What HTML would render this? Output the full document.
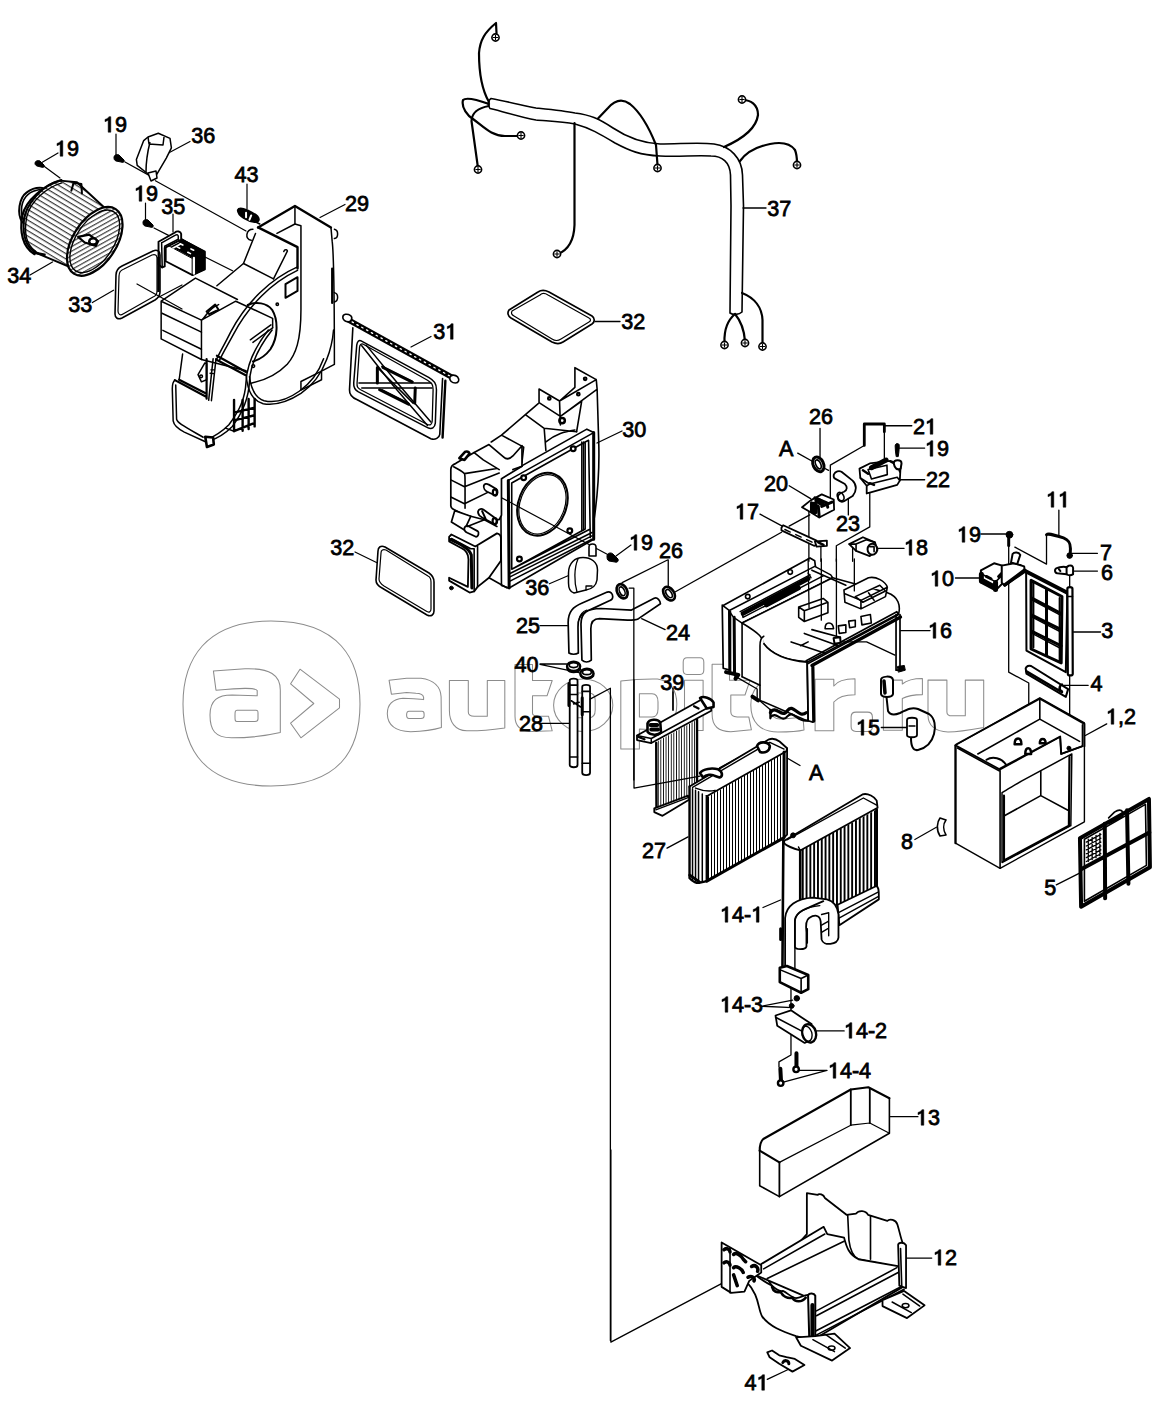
<!DOCTYPE html>
<html><head><meta charset="utf-8"><title>diagram</title>
<style>
html,body{margin:0;padding:0;background:#fff;}
svg{display:block;}
.lb text{font-family:"Liberation Sans",sans-serif;font-size:22.5px;fill:#000;stroke:#000;stroke-width:0.8px;}
</style></head><body>
<svg width="1166" height="1406" viewBox="0 0 1166 1406">
<rect width="1166" height="1406" fill="#fff"/>
<g fill="none" stroke="#8c8c8c" stroke-width="1.05" stroke-linejoin="round">
<!-- logo squircle -->
<path d="M271,621 C340,621 360,660 360,704 C360,750 340,786 271,786 C205,786 183,750 183,704 C183,660 205,621 271,621 Z"/>
<path d="M213.4,670.9 L245,668.8 C270,668 280.3,675 280.3,690 L280.3,732.6 C270,735 250,737.8 231.5,737.8 C215,737.8 210,730 210,715 C210,700 218,695 232,695 L257.2,695.8 L257.2,690.6 C255,687 240,688 216,690.3 Z"/>
<path d="M237,710.3 L256,710.3 C258,710.3 258,711 258,713 L258,719 C258,721 257,721.5 255,721.5 L237,721.5 C235,721.5 235,720 235,716 C235,712 235,710.3 237,710.3 Z"/>
<path d="M300,669.2 L339.5,699.2 L339.5,707.8 L300.9,737.8 L290.6,723.2 L313.8,703.5 L290.6,683.8 Z"/>
<!-- a -->
<path d="M389.1,680.3 L406.6,678.2 L421,678.2 C433.9,679.8 440.6,687 441.1,696.8 L441.4,727.6 C431.3,730.7 421,731.5 410.7,731.8 C395.3,731.2 387.6,725.6 387.3,713.7 C387.3,703.5 392.7,699.3 403,698.3 L413.8,698.8 L423.6,699.6 L423.6,697.3 C423.1,694.2 421,693.2 415.9,693.2 L406.6,692.6 L391.4,694.2 Z"/>
<path d="M409,711.2 L422,711.2 C424,711.2 424.1,712 424.1,714 L424.1,716 C424.1,718 423,718.4 421,718.4 L409,718.4 C407,718.4 406.6,717 406.6,715 C406.6,712.5 407,711.2 409,711.2 Z"/>
<!-- u -->
<path d="M449.4,680.5 L468.3,680.5 L468.3,711.9 C468.3,715 470,716.2 474.2,716.2 L487.3,716.2 L487.3,680.5 L504.8,680.5 L504.8,727.9 C490,730 478,731 466.9,730.8 C455,730.5 449.4,722 449.4,710.4 Z"/>
<!-- t -->
<path d="M515,664.5 L532.5,664.5 L532.5,680.5 L552.2,680.5 L547,695.8 L532.5,695.8 L532.5,713.3 C532.5,715.5 535,716.2 538.3,716.2 L548.5,716.2 L552.2,730.8 L532.5,731.5 C520,731.5 515,725 515,716.2 Z"/>
<!-- o -->
<ellipse cx="583.2" cy="705.3" rx="29.6" ry="26.3"/>
<path d="M578,692.9 L589,692.9 C593,692.9 595.2,696 595.2,700 L595.2,710 C595.2,715 593,717.7 589,717.7 L578,717.7 C574,717.7 571.8,715 571.8,710 L571.8,700 C571.8,696 574,692.9 578,692.9 Z"/>
<!-- p -->
<path d="M620.8,680.9 C632,679.5 645,678.8 657.5,679 C670,680.5 676.8,690 676.8,704 C676.8,720 670,729.8 653.6,729.8 L639.4,729.1 L639.4,749 L620.8,749 Z"/>
<path d="M639.4,693.7 L652,693.7 C656,693.7 658,697 658,702 L658,709 C658,714 656,716.9 652,716.9 L639.4,716.9 Z"/>
<!-- i -->
<path d="M687,657.7 L700,657.7 C702.5,657.7 703.8,659 703.8,662 L703.8,670 C703.8,673 702.5,674.4 700,674.4 L687,674.4 C684.5,674.4 683.2,673 683.2,670 L683.2,662 C683.2,659 684.5,657.7 687,657.7 Z"/>
<path d="M684.5,680.2 L703.1,680.2 L703.1,730.4 L684.5,730.4 Z"/>
<!-- t -->
<path d="M712.1,664.2 L729.5,664.2 L729.5,680.2 L750.1,680.2 L745,695 L730.8,695 L730.8,711.8 C730.8,715 733,716.9 737.2,716.9 L748.8,716.9 L751.4,729.8 L730.8,731.7 C718,731.7 712.1,725 712.1,714.3 Z"/>
<!-- e -->
<path d="M805.5,710.8 L805.5,702 C805.5,687 795,678 778,678 C760,678 750.8,690 750.8,705 C750.8,722 760,732 778,732 C790,732 800,731 804,730 L803,717 C795,718 788,719 780,719 C775,719 771,716 771,710.8 Z"/>
<path d="M771.4,698.6 C771.4,693 775,691.5 780,691.5 C786,691.5 788.7,694 788.7,698.6 Z"/>
<!-- r -->
<path d="M815.1,679.3 L833.8,679.3 L833.8,686 C838,680 845,678.7 855,678.7 L855,694.7 C845,694.7 838,697 833.8,702 L833.8,730.8 L815.1,730.8 Z"/>
<!-- . -->
<path d="M856,712.1 L867.5,712.1 C871,712.1 872.4,714 872.4,717 L872.4,726.5 C872.4,730 871,731.4 867.5,731.4 L856,731.4 C852.5,731.4 851.1,730 851.1,726.5 L851.1,717 C851.1,714 852.5,712.1 856,712.1 Z"/>
<!-- r -->
<path d="M883.4,680.1 L902.3,680.1 L902.3,684 C907,680 913,678.4 922.4,678.4 L922.4,694.6 C913,694.6 907,696 902.3,698.5 L902.3,730.3 L883.4,730.3 Z"/>
<!-- u -->
<path d="M928,680.1 L946.9,680.1 L946.9,711.9 C946.9,714.5 948.5,715.8 952,715.8 L965.3,715.8 L965.3,680.1 L983.7,680.1 L983.7,727.5 C970,730 960,731.9 948,731.9 C935,731.9 928,725 928,715.2 Z"/>
</g>

<g fill="none" stroke="#000" stroke-width="1.6" stroke-linecap="round" stroke-linejoin="round">
<!-- tube 37 -->
<path d="M491,98.5 C510,102 525,106 536,108 C555,110 565,111 575,113 C590,115 598,118 613,128 C625,136 640,143 660,144 C680,144 700,142 714,144 C730,146 742,158 742.5,175 L743.5,206 L742,312 C739,315 733,315 730,313 L731,206 L730.5,175 C730,162 722,156 711,156 C695,155 680,157 660,156 C640,155 630,151 615,143 C600,134 590,128 575,124 C560,121 545,121 536,120 C520,117 505,112 490,108.5 C487,105 488,100 491,98.5 Z"/>
</g>
<g fill="none" stroke="#000" stroke-width="2.2" stroke-linecap="round" stroke-linejoin="round">
<!-- wires -->
<path d="M489,102 C482,90 479,70 479,53 C480,40 485,32 496,23 L496.5,33"/>
<path d="M489,104 C478,100 466,97 463,100 C461,108 468,116 473,119 C485,128 492,136 505,136 L518,136"/>
<path d="M489,106 C478,108 472,112 471.5,121 L478,168"/>
<path d="M574.5,123 L574.5,225 C574,240 568,250 558,254"/>
<path d="M598,118.5 L608,108 C615,100 622,98 630,104 C640,112 648,125 656,145 L657.5,165"/>
<path d="M724,147 C740,140 756,130 758,115 C758,104 750,100 743,100"/>
<path d="M740,161 C748,150 760,146 770,144 C780,142 790,143 795,150 C797,155 797,160 797,163"/>
<path d="M735,314 C728,320 724,328 724.5,342"/>
<path d="M735,314 C740,320 744,328 745,341"/>
<path d="M742,293 C755,298 762,308 762.5,320 L762.5,344"/>
</g>
<g fill="#fff" stroke="#000" stroke-width="1.6">
<circle cx="495.5" cy="37.5" r="3.6"/><circle cx="521" cy="135.5" r="3.6"/><circle cx="478" cy="169.5" r="3.6"/>
<circle cx="557" cy="254" r="3.6"/><circle cx="657.5" cy="168" r="3.6"/><circle cx="742" cy="99.5" r="3.6"/>
<circle cx="797" cy="165" r="3.6"/><circle cx="724.5" cy="345" r="3.6"/><circle cx="745" cy="343" r="3.6"/><circle cx="762.5" cy="346.5" r="3.6"/>
</g>
<g fill="none" stroke="#000" stroke-width="1.1"><path d="M492.9,37.5 L498.1,37.5 M495.5,34.9 L495.5,40.1"/><path d="M518.4,135.5 L523.6,135.5 M521,132.9 L521,138.1"/><path d="M475.4,169.5 L480.6,169.5 M478,166.9 L478,172.1"/><path d="M554.4,254 L559.6,254 M557,251.4 L557,256.6"/><path d="M654.9,168 L660.1,168 M657.5,165.4 L657.5,170.6"/><path d="M739.4,99.5 L744.6,99.5 M742,96.9 L742,102.1"/><path d="M794.4,165 L799.6,165 M797,162.4 L797,167.6"/><path d="M721.9,345 L727.1,345 M724.5,342.4 L724.5,347.6"/><path d="M742.4,343 L747.6,343 M745,340.4 L745,345.6"/><path d="M759.9,346.5 L765.1,346.5 M762.5,343.9 L762.5,349.1"/></g>

<!-- blower housing 29 + duct, traced in zoom coords (origin 150,200 scale 1/5.83) -->
<g transform="translate(150,200) scale(0.17153)" fill="none" stroke="#000" stroke-width="1.5" stroke-linejoin="round" stroke-linecap="round">
<g vector-effect="non-scaling-stroke">
<!-- top rim -->
<path vector-effect="non-scaling-stroke" stroke-width="2.4" d="M630,160 L845,35 L1055,160"/>
<path vector-effect="non-scaling-stroke" stroke-width="2.4" d="M630,160 L860,275 L860,400"/>

<path vector-effect="non-scaling-stroke" d="M740,195 L845,140"/>

<path vector-effect="non-scaling-stroke" stroke-width="2.2" d="M1062,400 L1062,600"/>
<path vector-effect="non-scaling-stroke" d="M1075,170 C1100,175 1100,220 1075,225"/>
<path vector-effect="non-scaling-stroke" d="M1075,540 C1100,545 1100,590 1075,595"/>

<!-- scroll circle -->


<!-- double flange arc -->


<!-- fold/back lines -->
<path vector-effect="non-scaling-stroke" d="M720,460 L800,300 C805,290 785,285 780,300"/>
<path vector-effect="non-scaling-stroke" d="M545,370 L720,460"/>
<path vector-effect="non-scaling-stroke" d="M615,195 L545,370 L390,500"/>
<path vector-effect="non-scaling-stroke" d="M600,170 C560,170 550,230 590,235"/>
<!-- small rectangle window -->
<path vector-effect="non-scaling-stroke" stroke-width="2" d="M790,490 L860,450 L860,530 L790,570 Z"/>
<!-- duct box -->
<path vector-effect="non-scaling-stroke" d="M65,590 L265,455 L510,580 M65,590 L300,700 L300,930 L65,810 Z"/>
<path vector-effect="non-scaling-stroke" d="M70,660 L300,770 M75,760 L300,870"/>
<path vector-effect="non-scaling-stroke" d="M300,700 L500,590 L715,690 L715,745 M300,930 L560,995 M300,700 C330,680 330,640 400,610"/>
<path vector-effect="non-scaling-stroke" stroke-width="2" d="M330,650 L380,610 L400,640 L345,665 Z"/>
<!-- front face / right side -->
<path vector-effect="non-scaling-stroke" d="M845,35 L845,140 L880,150 L880,640 C880,820 850,900 800,958 C740,1020 680,1050 590,1068"/>
<path vector-effect="non-scaling-stroke" d="M1055,160 L1062,240 C1072,320 1075,650 1075,958 L1000,998 L1000,1048 L880,1108 M1000,998 L880,1058 L880,1108"/>
<!-- eye arc -->
<path vector-effect="non-scaling-stroke" stroke-width="2" d="M570,612 C620,590 680,600 712,640 C748,700 748,800 702,870 C672,910 640,930 600,942"/>
<path vector-effect="non-scaling-stroke" d="M600,830 L715,745 M585,815 L705,728"/>
<circle vector-effect="non-scaling-stroke" cx="742" cy="608" r="7"/><circle vector-effect="non-scaling-stroke" cx="602" cy="968" r="8"/>

<!-- flange arc (upper) -->
<path vector-effect="non-scaling-stroke" d="M860,390 C700,460 560,600 470,770 C430,850 400,900 388,930"/>
<path vector-effect="non-scaling-stroke" d="M860,410 C710,480 575,615 488,780 C450,850 420,900 405,935"/>
<!-- scroll rings -->
<path vector-effect="non-scaling-stroke" d="M690,758 C610,860 565,960 560,1058 C555,1160 520,1230 460,1310 C420,1350 370,1380 330,1398"/>
<path vector-effect="non-scaling-stroke" d="M712,758 C632,860 585,960 580,1058 C575,1160 540,1240 480,1320 C440,1360 390,1390 345,1405"/>
<path vector-effect="non-scaling-stroke" d="M560,1020 C570,1120 600,1170 660,1188 C730,1200 800,1180 880,1128 C950,1080 1000,1010 1030,930 C1050,880 1065,820 1070,758"/>
<path vector-effect="non-scaling-stroke" d="M580,1030 C590,1110 620,1155 665,1170 C730,1185 800,1165 870,1115 C940,1065 985,1000 1012,925"/>
<!-- lower duct -->
<path vector-effect="non-scaling-stroke" d="M190,898 L170,1048 M145,1050 C132,1060 130,1080 130,1100 L135,1288 C140,1318 170,1338 200,1353 L320,1408"/>
<path vector-effect="non-scaling-stroke" d="M150,1078 L155,1278 C160,1300 200,1320 310,1383"/>
<path vector-effect="non-scaling-stroke" stroke-width="2.2" d="M145,1050 L330,1148 M170,1048 L330,1130 M330,928 L330,1158"/>
<path vector-effect="non-scaling-stroke" d="M280,1018 L320,950 L330,955 L330,1048 L300,1060 Z"/>
<circle vector-effect="non-scaling-stroke" cx="298" cy="1028" r="8"/>
<path vector-effect="non-scaling-stroke" d="M385,925 L358,1170 M368,925 L342,1168"/>
<path vector-effect="non-scaling-stroke" stroke-width="2.2" d="M390,908 L560,1003 M385,930 L555,1020"/>
<path vector-effect="non-scaling-stroke" stroke-width="1.3" d="M355,990 L375,990 M350,1010 L372,1012"/>
<!-- grille -->
<path vector-effect="non-scaling-stroke" stroke-width="2.4" d="M490,1165 L490,1348 M540,1165 L540,1345 M575,1160 L575,1335 M610,1160 L610,1320 M490,1240 L610,1210 M490,1285 L610,1255 M490,1348 L610,1300"/>
<path vector-effect="non-scaling-stroke" stroke-width="1.4" d="M440,1330 L490,1348"/>
<path vector-effect="non-scaling-stroke" stroke-width="2.6" fill="#fff" d="M322,1380 L368,1385 L372,1425 L332,1440 Z"/>
<!-- 43 blob -->
<path vector-effect="non-scaling-stroke" stroke-width="3" fill="#000" d="M515,60 C520,45 560,55 600,80 C640,100 640,130 610,125 C570,120 515,90 515,60 Z"/>
<path vector-effect="non-scaling-stroke" stroke="#fff" stroke-width="2" d="M560,75 L560,100 M590,90 L580,115"/>
<path vector-effect="non-scaling-stroke" d="M600,120 L640,140"/>
</g>
</g>
<!-- part 35 resistor: origin (140,180) scale 1/4.858 -->
<g transform="translate(140,180) scale(0.20585)" fill="none" stroke="#000" stroke-linejoin="round" stroke-linecap="round">
<path vector-effect="non-scaling-stroke" stroke-width="1.8" fill="#fff" d="M125,320 L190,282 L315,348 L315,435 L255,462 L125,395 Z"/>
<path vector-effect="non-scaling-stroke" stroke-width="1" fill="#000" d="M140,318 L200,284 L315,348 L255,380 Z"/>
<path vector-effect="non-scaling-stroke" stroke-width="1" fill="#000" d="M255,380 L315,348 L315,435 L255,462 Z"/>
<path vector-effect="non-scaling-stroke" stroke-width="2.2" stroke="#fff" d="M262,378 L262,455"/>
<path vector-effect="non-scaling-stroke" stroke-width="1.6" stroke="#fff" stroke-dasharray="3 9" d="M195,310 L290,355 M180,325 L270,370"/>
<path vector-effect="non-scaling-stroke" stroke-width="1.6" stroke="#fff" d="M150,318 L185,300 M160,330 L195,312"/>
<path vector-effect="non-scaling-stroke" stroke-width="1.9" fill="#fff" d="M90,300 L170,255 C180,245 198,250 200,262 L200,290 L120,330 L120,420 L108,425 L90,410 Z"/>
<path vector-effect="non-scaling-stroke" stroke-width="1.5" d="M105,305 L172,268 C180,263 186,266 186,275 L186,288 L120,322 M105,305 L108,425"/>
</g>

<defs>
<pattern id="hatchA" patternUnits="userSpaceOnUse" width="41" height="41" patternTransform="rotate(31)">
<rect width="41" height="41" fill="#fff"/><line x1="0" y1="6" x2="41" y2="6" stroke="#000" stroke-width="8.5"/></pattern>
<pattern id="hatchB" patternUnits="userSpaceOnUse" width="36" height="36" patternTransform="rotate(28)">
<rect width="36" height="36" fill="#fff"/><line x1="0" y1="6" x2="36" y2="6" stroke="#000" stroke-width="8"/></pattern>
</defs>
<!-- motor 34: zoom origin (0,160) scale 1/8.97 -->
<g transform="translate(0,160) scale(0.11148)" fill="none" stroke="#000" stroke-linejoin="round" stroke-linecap="round">
<!-- dome motor behind -->
<path vector-effect="non-scaling-stroke" stroke-width="2" fill="#fff" d="M200,560 C150,480 170,340 240,290 C280,260 340,245 380,250 L420,520 Z"/>
<path vector-effect="non-scaling-stroke" stroke-width="1.6" d="M215,540 C175,470 190,360 250,310 C280,285 320,270 360,265"/>
<!-- drum body hatched -->
<path vector-effect="non-scaling-stroke" stroke-width="2" fill="url(#hatchA)" d="M540,185 L690,200 L950,440 C700,600 640,800 660,975 L340,840 C250,800 200,700 215,540 C230,400 380,220 540,185 Z"/>
<!-- back rim -->
<path vector-effect="non-scaling-stroke" stroke-width="2.2" d="M550,180 C400,220 230,360 200,500 C175,640 200,780 310,845"/>
<path vector-effect="non-scaling-stroke" stroke-width="1.4" d="M555,205 C420,245 270,370 240,510 C215,640 235,760 320,820"/>
<!-- bracket -->
<path vector-effect="non-scaling-stroke" stroke-width="2" d="M640,275 L660,205 L730,215 L735,300"/>
<!-- front ellipse hatched -->
<ellipse vector-effect="non-scaling-stroke" stroke-width="2.2" fill="url(#hatchB)" cx="850" cy="730" rx="345" ry="195" transform="rotate(-57 850 730)"/>
<ellipse vector-effect="non-scaling-stroke" stroke-width="1.4" cx="850" cy="730" rx="315" ry="170" transform="rotate(-57 850 730)"/>
<!-- hub -->
<path vector-effect="non-scaling-stroke" stroke-width="2.2" fill="#fff" d="M700,690 L800,670 L880,730 L860,770 L760,740 Z"/>
<ellipse vector-effect="non-scaling-stroke" stroke-width="2.4" fill="#fff" cx="835" cy="730" rx="35" ry="28"/>
<!-- motor foot -->
<path vector-effect="non-scaling-stroke" stroke-width="2.4" d="M300,830 L400,850"/>
</g>

<g fill="none" stroke="#000" stroke-width="1.2" stroke-linecap="round" stroke-linejoin="round">
<!-- leaders -->
<path d="M58,153 L41,163"/>
<path d="M41,164 L60,178"/>
<path d="M116,134 L116,156"/>
<path d="M125,162 L149.6,175.6 M155.4,180.7 L246,231"/>
<path d="M190,141.5 L168.5,153"/>
<path d="M247,184 L247,209"/>
<path d="M345,204.5 L320,217.5"/>
<path d="M145.5,203 L145.5,221"/>
<path d="M154,228 L168.5,235.4"/>
<path d="M173,214 L173,232"/>
<path d="M30,275 L52.5,262"/>
<path d="M92.4,302.6 L113.5,290.2"/>
<path d="M137,284 L182,309 M159,297 L182,285"/>
<path d="M431,336.5 L411,347"/>
</g>
<!-- screws -->
<g fill="#000" stroke="#000" stroke-width="1">
<path d="M35,163 C35,161 38,160 40,161 L44,165 C45,167 43,168 41,167 L37,166 C35,165 35,164 35,163 Z"/>
<path d="M114,157 C114,155 117,154 119,155 L124,160 C125,162 123,163 121,162 L116,161 C114,160 114,159 114,157 Z"/>
<path d="M143,222 C143,220 146,219 148,220 L153,225 C154,227 152,228 150,227 L145,226 C143,225 143,224 143,222 Z"/>
</g>
<!-- part 36 -->
<g fill="#fff" stroke="#000" stroke-width="1.5" stroke-linejoin="round">
<path d="M143.7,140.6 L148,137 L158.3,133.3 L170,138.4 L171.4,147.9 L166.3,158.1 L156.9,174.1 L151,177 L148,174 L137.2,165.4 L136.4,159.6 Z"/>
<path fill="none" d="M150,142 C148,150 146,160 146,172 M148,137 L149,144 L163,145 L164,137"/>
<path d="M148,173 L156,171 L157,178 L151,181 Z"/>
</g>
<!-- 33 gasket -->
<g fill="none" stroke="#000" stroke-linejoin="round">
<path stroke-width="1.6" d="M116,275 C116,270 118,268 122,266 L153,251 C157,249 160,251 160,255 L160,292 C160,296 158,298 155,300 L122,318 C118,320 115,318 115,314 Z"/>
<path stroke-width="1.2" d="M119,276 C119,272 121,270 124,269 L152,255 C155,254 157,255 157,258 L157,291 C157,294 156,296 153,297 L123,314 C120,316 118,314 118,311 Z"/>
<path stroke-width="2.6" d="M158.5,257 L158.5,292"/>
</g>

<g transform="translate(335,305) scale(0.11148)" fill="none" stroke="#000" stroke-linejoin="round" stroke-linecap="round">
<!-- shaft -->
<path vector-effect="non-scaling-stroke" stroke-width="5.5" d="M95,120 L1080,665"/>
<path vector-effect="non-scaling-stroke" stroke-width="1.3" stroke="#fff" stroke-dasharray="1.5 4" d="M110,128 L1060,654"/>
<path vector-effect="non-scaling-stroke" stroke-width="1.6" fill="#fff" d="M70,110 C70,80 110,75 140,95 C160,110 150,150 120,150 C95,150 70,135 70,110 Z"/>
<path vector-effect="non-scaling-stroke" stroke-width="1.6" fill="#fff" d="M1030,650 C1040,620 1080,625 1100,645 C1120,670 1110,700 1080,700 C1050,700 1025,680 1030,650 Z"/>
<!-- panel outer -->
<path vector-effect="non-scaling-stroke" stroke-width="1.6" d="M160,205 L130,760 C128,800 150,830 200,850 L860,1200 C900,1215 935,1190 940,1160 L965,660"/>
<path vector-effect="non-scaling-stroke" stroke-width="2.4" d="M990,680 L965,1190"/>
<!-- inner frame double -->
<path vector-effect="non-scaling-stroke" stroke-width="1.5" d="M230,320 L840,650 C890,680 910,700 910,760 L900,1060 C895,1100 870,1120 830,1100 L210,780 C175,760 165,740 168,700 L195,360 C200,325 215,315 230,320 Z"/>
<path vector-effect="non-scaling-stroke" stroke-width="1.3" d="M250,350 L830,675 C870,700 880,715 880,760 L872,1040 C870,1070 855,1085 825,1070 L230,760 C205,745 195,735 198,700 L220,380 C223,355 235,345 250,350 Z"/>
<!-- cross bars -->
<path vector-effect="non-scaling-stroke" stroke-width="1.5" d="M215,700 L860,700 M240,745 L870,745"/>
<path vector-effect="non-scaling-stroke" stroke-width="1.5" d="M240,365 L520,720 L830,1080 M280,360 L560,700 L860,1050"/>
<path vector-effect="non-scaling-stroke" stroke-width="1.5" d="M380,560 L700,880 M420,550 L700,690 M420,760 L660,880"/>
<path vector-effect="non-scaling-stroke" stroke-width="3" d="M380,560 L380,700 M720,745 L715,880 M430,560 L690,690 M400,760 L660,890"/>
</g>

<g transform="translate(440,360) scale(0.17077)" fill="none" stroke="#000" stroke-linejoin="round" stroke-linecap="round">
<!-- tower bracket -->
<path vector-effect="non-scaling-stroke" stroke-width="1.6" d="M790,45 L915,115 L920,170 L930,500 C935,700 915,850 900,950 M790,45 L790,160 L700,240 M580,170 L700,240 L915,115 M580,170 L580,250 L705,330 L915,175 M700,240 L705,380 M705,330 L830,240 L800,420"/>
<circle vector-effect="non-scaling-stroke" stroke-width="2" cx="640" cy="225" r="8"/><circle vector-effect="non-scaling-stroke" stroke-width="2" cx="850" cy="110" r="8"/><circle vector-effect="non-scaling-stroke" stroke-width="2" cx="810" cy="200" r="8"/>
<circle vector-effect="non-scaling-stroke" stroke-width="2.5" cx="715" cy="355" r="16"/>
<!-- duct body top -->
<path vector-effect="non-scaling-stroke" stroke-width="1.6" d="M575,255 L500,320 L360,440 L300,480 M500,320 L610,400 L620,530 M360,440 L490,510 L480,600 M610,400 L800,420 M620,480 C680,430 730,420 790,410"/>
<!-- front frame -->
<path vector-effect="non-scaling-stroke" stroke-width="1.6" fill="#fff" d="M355,690 L860,405 L900,425 L900,1050 L405,1335 L360,1320 Z"/>
<path vector-effect="non-scaling-stroke" stroke-width="3" d="M400,705 L405,1335 M900,425 L900,1050"/>
<path vector-effect="non-scaling-stroke" stroke-width="1.6" d="M400,705 L900,425 M420,720 L850,480 L850,990 L420,1225 Z M850,480 L870,470 L880,1040 M420,1225 L880,990 M410,1250 L890,1010 M410,1270 L890,1030 M410,1295 L890,1050"/>
<path vector-effect="non-scaling-stroke" stroke-width="1.4" d="M830,480 L830,1000 M840,480 L840,995"/>
<circle vector-effect="non-scaling-stroke" stroke-width="2.2" fill="#fff" cx="490" cy="690" r="14"/><circle vector-effect="non-scaling-stroke" stroke-width="2.2" fill="#fff" cx="780" cy="520" r="14"/>
<circle vector-effect="non-scaling-stroke" stroke-width="2.2" fill="#fff" cx="465" cy="1165" r="14"/><circle vector-effect="non-scaling-stroke" stroke-width="2.2" fill="#fff" cx="760" cy="1000" r="14"/>
<!-- circle opening -->
<ellipse vector-effect="non-scaling-stroke" stroke-width="2" cx="600" cy="845" rx="140" ry="190" transform="rotate(22 600 845)"/>
<ellipse vector-effect="non-scaling-stroke" stroke-width="1.2" cx="600" cy="845" rx="130" ry="180" transform="rotate(22 600 845)"/>
<!-- alignment line through -->
<path vector-effect="non-scaling-stroke" stroke-width="1.2" d="M330,790 L1020,1160"/>
</g>
<!-- left duct block: origin (440,440) scale 1/8.783 -->
<g transform="translate(440,440) scale(0.11386)" fill="none" stroke="#000" stroke-linejoin="round" stroke-linecap="round">
<path vector-effect="non-scaling-stroke" stroke-width="1.7" fill="#fff" d="M95,260 C95,230 110,215 140,205 L300,110 L430,40 L560,150 C580,170 610,170 640,140 L720,50 L720,230 L540,340 L540,660 L520,700 L390,700 L270,670 L220,660 L130,615 C105,605 95,595 95,580 Z"/>
<path vector-effect="non-scaling-stroke" stroke-width="1.6" d="M120,235 C150,250 190,270 215,295 L500,250 M300,110 L380,175 L520,260 M215,295 C220,310 220,330 220,360 L220,600 M95,350 L215,410 L520,290 M95,500 L215,560 L420,460 M720,230 L640,260"/>
<path vector-effect="non-scaling-stroke" stroke-width="2.6" fill="#fff" d="M170,160 L220,105 C235,95 255,105 260,120 L215,175 Z"/>
<path vector-effect="non-scaling-stroke" stroke-width="1.8" fill="#fff" d="M385,400 C390,385 410,380 425,390 L495,430 C510,440 510,480 490,490 L415,455 C395,445 380,420 385,400 Z"/>
<ellipse vector-effect="non-scaling-stroke" stroke-width="2.2" cx="482" cy="460" rx="18" ry="26"/>
<path vector-effect="non-scaling-stroke" stroke-width="1.8" fill="#fff" d="M335,625 C340,605 365,600 380,610 L490,690 C510,705 505,740 480,740 L370,680 C345,665 330,645 335,625 Z"/>
<ellipse vector-effect="non-scaling-stroke" stroke-width="2.2" cx="480" cy="712" rx="18" ry="26"/>
<path vector-effect="non-scaling-stroke" stroke-width="2" d="M370,625 L400,690"/>
<path vector-effect="non-scaling-stroke" stroke-width="1.7" fill="#fff" d="M130,620 L100,720 L215,790 L270,670 Z"/>
<path vector-effect="non-scaling-stroke" stroke-width="1.8" fill="#fff" d="M215,770 C220,755 240,750 255,760 L330,800 C345,810 340,850 315,850 L240,815 C220,805 210,790 215,770 Z"/>
<path vector-effect="non-scaling-stroke" stroke-width="1.6" d="M240,760 L390,700 L500,760"/>
<!-- U foot -->
<path vector-effect="non-scaling-stroke" stroke-width="1.8" fill="#fff" d="M80,850 L100,830 L310,935 L500,820 C520,825 535,840 535,860 L535,1060 L430,1210 L330,1290 L300,1330 L260,1340 L80,1235 L80,1210 L245,1290 L250,1050 C250,1000 230,970 190,950 L80,890 Z"/>
<path vector-effect="non-scaling-stroke" stroke-width="1.6" d="M100,865 L270,955 L300,955 L300,1330 M330,935 L330,1290"/>
<path vector-effect="non-scaling-stroke" stroke-width="3" d="M95,875 C190,920 260,955 275,1010 L280,1300"/>
<path vector-effect="non-scaling-stroke" stroke-width="1.6" d="M430,1210 L590,1300"/>
<circle vector-effect="non-scaling-stroke" stroke-width="1" fill="#000" cx="100" cy="1300" r="16"/>
</g>

<!-- zoom origin (540,560) scale 1/6.394 -->
<g transform="translate(540,560) scale(0.15640)" fill="none" stroke="#000" stroke-linejoin="round" stroke-linecap="round">
<path vector-effect="non-scaling-stroke" stroke-width="1.7" fill="#fff" d="M185,595 L180,400 C180,330 210,300 270,275 L430,205 C450,200 465,215 465,235 C465,250 455,258 440,262 L295,330 C255,350 240,380 243,430 L245,595 C230,605 200,605 185,595 Z"/>
<path vector-effect="non-scaling-stroke" stroke-width="1.7" fill="#fff" d="M268,640 L262,410 C262,340 300,310 390,310 L585,320 L730,245 C750,235 770,260 770,280 L630,375 C610,385 590,385 560,385 L380,375 C345,375 325,395 325,440 L328,640 C310,655 285,655 268,640 Z"/>
<path vector-effect="non-scaling-stroke" stroke-width="1.2" d="M250,380 C255,350 270,330 300,320"/>
<!-- clips 26 -->
<ellipse vector-effect="non-scaling-stroke" stroke-width="2.6" fill="#fff" cx="525" cy="200" rx="32" ry="48" transform="rotate(-25 525 200)"/>
<ellipse vector-effect="non-scaling-stroke" stroke-width="1.6" cx="525" cy="200" rx="16" ry="30" transform="rotate(-25 525 200)"/>
<ellipse vector-effect="non-scaling-stroke" stroke-width="2.6" fill="#fff" cx="825" cy="215" rx="32" ry="48" transform="rotate(-35 825 215)"/>
<ellipse vector-effect="non-scaling-stroke" stroke-width="1.6" cx="825" cy="215" rx="16" ry="30" transform="rotate(-35 825 215)"/>
<!-- rings 40 -->
<ellipse vector-effect="non-scaling-stroke" stroke-width="2.4" fill="#fff" cx="215" cy="680" rx="42" ry="30"/>
<ellipse vector-effect="non-scaling-stroke" stroke-width="1.6" cx="215" cy="672" rx="28" ry="16"/>
<path vector-effect="non-scaling-stroke" stroke-width="1.6" d="M173,680 L175,700 C190,725 240,725 257,700 L257,680"/>
<ellipse vector-effect="non-scaling-stroke" stroke-width="2.4" fill="#fff" cx="300" cy="725" rx="42" ry="30"/>
<ellipse vector-effect="non-scaling-stroke" stroke-width="1.6" cx="300" cy="717" rx="28" ry="16"/>
<path vector-effect="non-scaling-stroke" stroke-width="1.6" d="M258,725 L260,742 C275,765 325,765 342,742 L342,725"/>
<!-- pipes 28 -->
<path vector-effect="non-scaling-stroke" stroke-width="1.8" fill="#fff" d="M190,770 C190,755 240,755 240,770 L240,1310 C240,1330 190,1330 190,1310 Z"/>
<path vector-effect="non-scaling-stroke" stroke-width="1.8" fill="#fff" d="M270,810 C270,795 320,795 320,810 L320,1360 C320,1380 270,1380 270,1360 Z"/>
<path vector-effect="non-scaling-stroke" stroke-width="1.6" d="M190,800 L240,800 M190,860 L240,860 M190,1260 L240,1260 M270,840 L320,840 M270,970 L320,970 M270,1300 L320,1300 M200,900 L260,940 M215,920 L250,910"/>
<path vector-effect="non-scaling-stroke" stroke-width="3" d="M185,790 L185,930 M270,880 L270,990"/>
<!-- leader and alignment lines -->
<path vector-effect="non-scaling-stroke" stroke-width="1.3" d="M570,180 L600,180 L600,1406"/>
<path vector-effect="non-scaling-stroke" stroke-width="1.3" d="M320,890 L450,820 L450,4990"/>

<path vector-effect="non-scaling-stroke" stroke-width="1.3" d="M650,375 L800,445"/>
<path vector-effect="non-scaling-stroke" stroke-width="1.3" d="M0,420 L175,420"/>
<path vector-effect="non-scaling-stroke" stroke-width="1.3" d="M0,665 L170,665 M0,668 L250,720"/>
<path vector-effect="non-scaling-stroke" stroke-width="1.3" d="M0,1045 L185,1045"/>
<path vector-effect="non-scaling-stroke" stroke-width="1.3" d="M525,145 L815,0 M820,0 L820,170"/>
<path vector-effect="non-scaling-stroke" stroke-width="1.3" d="M850,960 L850,820"/>
</g>
<g fill="none" stroke="#000" stroke-linejoin="round" stroke-linecap="round">
<!-- gasket 32 left -->
<path stroke-width="1.6" d="M378,551 C378,547 381,545 385,547 L429,573 C432,575 434,578 434,582 L434,611 C434,615 431,617 427,615 L382,588 C378,586 376,583 376,580 Z"/>
<path stroke-width="1.2" d="M381,553 C381,550 383,549 386,550 L428,576 C430,577 431,579 431,582 L431,609 C431,612 429,613 426,611 L384,586 C381,584 379,582 379,579 Z"/>
<path stroke-width="1.2" d="M355,552 L376.5,562.5"/>
<!-- 36 mid -->
<path stroke-width="1.5" fill="#fff" d="M568.5,573 C568.5,563 575,557.5 583,557.5 C591,557.5 597.5,562 597.5,570 L597,580 C596,586 592,589 586,590 L574,593 C570,592 568.5,588 568.5,583 Z"/>
<path stroke-width="1.3" d="M578,559 C574,568 574,582 577,592 M586,590 L586,586 L592,586"/>
<path stroke-width="1.6" fill="#fff" d="M589,547 C589,543 596,543 596,547 L596,556 L589,556 Z"/>
<path stroke-width="1.2" d="M549.4,583.8 L568,575.8"/>
<path stroke-width="1.2" d="M631,545 L616,556"/>
</g>
<g fill="#000" stroke="#000" stroke-width="1">
<path d="M607,556 C607,553 611,552 613,554 L618,559 C619,561 617,563 615,562 L609,561 C607,560 607,558 607,556 Z"/>
</g>

<g fill="none" stroke="#000" stroke-linejoin="round" stroke-linecap="round">
<!-- gasket 32 top -->
<path stroke-width="1.7" d="M509,310 C507,313 508,316 511,318 L552,342 C556,344 560,344 563,342 L592,324 C595,322 595,318 592,316 L549,292 C545,290 541,290 538,292 Z"/>
<path stroke-width="1.2" d="M512,311 C511,313 512,315 514,316 L552,339 C555,341 558,341 561,339 L589,322 C591,321 591,319 589,318 L548,295 C545,293 542,293 540,295 Z"/>
<path stroke-width="1.3" d="M595,321.5 L620,321.5"/>
<!-- 37 leader -->
<path stroke-width="1.3" d="M743,208 L766,208"/>
<!-- 30 leader -->
<path stroke-width="1.3" d="M622,431 L597,443"/>
</g>
<g fill="none" stroke="#000" stroke-linejoin="round" stroke-linecap="round">
<path stroke-width="1.3" d="M763,907.5 L780.5,900"/>
<path stroke-width="1.3" d="M881.3,727.5 L907,727.5"/>
<!-- sensor 15 -->
<path stroke-width="2" d="M886.5,697 L888,711 C890,715 895,715 900,713 C908,709 912,707 918,709 L929,714 C935,718 936,727 934,734 C932,742 926,748 918,750 C913,751 911,746 911,738"/>
<path stroke-width="2" fill="#fff" d="M881,680 C881,676 892,675 893,680 L893,694 C892,698 882,698 881,694 Z"/>
<path stroke-width="3.5" d="M884,681 L885,693"/>
<path stroke-width="1.8" fill="#fff" d="M907,720 C907,717 917,717 917,720 L917,735 C917,738 907,738 907,735 Z"/>
<path stroke-width="1.4" d="M909,726 L915,726"/>
</g>
<g fill="none" stroke="#000" stroke-linejoin="round" stroke-linecap="round">
<!-- 13 tray -->
<path stroke-width="2.1" d="M759.7,1150.7 C759.7,1145 761,1141 763.3,1139 L850.8,1089.5 L868.3,1087.3 L889.4,1098.2"/>
<path stroke-width="1.6" d="M889.4,1098.2 L889.4,1133.2 L779.4,1196.6 L759.7,1185.7 L759.7,1150.7"/>
<path stroke-width="2.1" d="M759.7,1150.7 L779.4,1162.4"/>
<path stroke-width="1.2" d="M779.4,1162.4 L850.8,1125.2 L869.8,1123 L889.4,1133.2"/>
<path stroke-width="1.8" d="M779.4,1162.4 L779.4,1196.6 M850.8,1089.5 L850.8,1125.2 M869.8,1088.7 L869.8,1123"/>
</g>
<path fill="none" stroke="#000" stroke-width="1.3" d="M675,592 L782,532"/>
<path fill="none" stroke="#000" stroke-width="1.3" d="M205,257 L233,271"/>

<!-- case 16, origin (710,540) scale 1/5.3 -->
<g transform="translate(710,540) scale(0.18868)" fill="none" stroke="#000" stroke-linejoin="round" stroke-linecap="round">
<!-- back flange plate -->
<path vector-effect="non-scaling-stroke" stroke-width="1.7" fill="#fff" d="M65,350 L530,95 L555,110 L560,150 L100,380 L105,690 L70,680 Z"/>
<path vector-effect="non-scaling-stroke" stroke-width="1.5" fill="#fff" d="M100,375 L555,140 L640,185 L650,200 L170,440 L125,410 Z"/>
<path vector-effect="non-scaling-stroke" stroke-width="3" d="M105,380 L105,695 M128,410 L130,705"/>
<path vector-effect="non-scaling-stroke" stroke-width="1.6" d="M170,440 L170,725 M65,345 L100,372"/>
<path vector-effect="non-scaling-stroke" stroke-width="4.5" d="M175,390 L520,205 M300,345 L470,255"/>
<path vector-effect="non-scaling-stroke" stroke-width="1.5" d="M160,380 L530,185 M175,410 L600,190 M200,440 L640,210 M170,390 L175,410 M520,175 L535,200"/>
<circle vector-effect="non-scaling-stroke" stroke-width="1.6" cx="200" cy="300" r="12"/><circle vector-effect="non-scaling-stroke" stroke-width="1.6" cx="425" cy="170" r="12"/>
<!-- top surface -->
<path vector-effect="non-scaling-stroke" stroke-width="1.6" fill="#fff" d="M170,440 L650,200 L940,280 C1000,300 1010,350 1000,390 L520,645 C420,640 330,610 285,550 C280,520 270,500 170,440 Z"/>
<!-- body front -->
<path vector-effect="non-scaling-stroke" stroke-width="1.6" fill="#fff" d="M285,550 C330,610 420,640 515,648 L520,960 L265,850 L265,560 C265,530 275,515 285,510"/>
<path vector-effect="non-scaling-stroke" stroke-width="1.6" d="M170,725 L265,770"/>
<!-- thick frame -->
<path vector-effect="non-scaling-stroke" stroke-width="1.7" d="M510,640 L990,380 L1000,395 L520,655 Z M515,650 L520,958 L545,965"/>
<path vector-effect="non-scaling-stroke" stroke-width="3.2" d="M540,665 L1010,408 M545,668 L550,960"/>
<path vector-effect="non-scaling-stroke" stroke-width="1.7" d="M986,395 L986,690 L1007,690 L1007,395"/>
<path vector-effect="non-scaling-stroke" stroke-width="1" fill="#000" d="M995,670 L1030,665 L1035,690 L1000,700 Z"/>
<path vector-effect="non-scaling-stroke" stroke-width="1.4" d="M830,540 L980,610 M660,540 L830,540"/>
<!-- top details -->
<path vector-effect="non-scaling-stroke" stroke-width="1.6" fill="#fff" d="M470,355 L600,310 L625,330 L625,385 L500,432 L470,410 Z M470,355 L500,375 L625,330 M500,375 L500,432"/>
<path vector-effect="non-scaling-stroke" stroke-width="1.6" fill="#fff" d="M710,265 L840,200 C880,190 930,220 940,250 L930,300 L800,365 L715,330 Z M715,285 L800,320 L940,250 M800,320 L800,365"/>
<path vector-effect="non-scaling-stroke" stroke-width="1.6" d="M770,300 L900,240 L930,270 L810,330 Z M840,280 L870,320"/>
<path vector-effect="non-scaling-stroke" stroke-width="1.6" fill="#fff" d="M610,470 C610,430 650,430 655,470 Z M680,455 L720,450 L720,490 L685,495 Z M735,430 L770,425 L770,460 L740,465 Z M800,405 L850,395 L855,440 L805,450 Z"/>
<path vector-effect="non-scaling-stroke" stroke-width="1.6" d="M430,540 L610,600 M500,495 L680,560 M540,475 L690,515 M480,560 L520,540 M540,160 L720,240"/>
<path vector-effect="non-scaling-stroke" stroke-width="2" fill="#fff" d="M655,520 L690,515 L692,545 L660,550 Z"/>
<!-- bottom wavy hose -->
<path vector-effect="non-scaling-stroke" stroke-width="3.2" d="M320,915 C350,870 380,950 410,905 C440,860 470,950 510,915"/>
<path vector-effect="non-scaling-stroke" stroke-width="2.2" d="M320,940 C350,900 380,975 410,935 C440,895 470,975 520,955 M320,900 L320,945"/>
<path vector-effect="non-scaling-stroke" stroke-width="4" d="M225,830 L255,850 M85,700 L150,715 L135,735"/>
<path vector-effect="non-scaling-stroke" stroke-width="1.3" d="M130,720 L250,790 L250,840 L320,900"/>
<!-- vertical alignment lines -->
<path vector-effect="non-scaling-stroke" stroke-width="1.3" d="M520,100 L525,360 M590,100 L590,425 M670,100 L670,515 M765,100 L765,270"/>
<!-- leader 16 -->
<path vector-effect="non-scaling-stroke" stroke-width="1.3" d="M1010,480 L1166,480"/>
</g>

<!-- origin (760,400) scale 1/5.83 -->
<g transform="translate(760,400) scale(0.17153)" fill="none" stroke="#000" stroke-linejoin="round" stroke-linecap="round">
<path vector-effect="non-scaling-stroke" stroke-width="1.3" d="M350,165 L350,330 M220,310 L310,360 M370,395 L400,410 M515,570 L515,670 M170,500 L295,575 M0,665 L130,735 M170,735 L290,670"/>
<path vector-effect="non-scaling-stroke" stroke-width="1.3" d="M725,150 L885,150 M725,185 L725,340 M810,280 L960,280 M810,465 L960,465 M680,865 L840,865"/>
<path vector-effect="non-scaling-stroke" stroke-width="1.3" d="M608,265 L410,380 L410,600 M640,545 L640,740 L445,850 L445,940 M285,650 L285,940 M355,850 L355,940 M540,850 L540,940"/>

<!-- 21 bracket -->
<path vector-effect="non-scaling-stroke" stroke-width="2.8" d="M608,265 L608,140 L725,140 L725,185"/>
<!-- clip 26 -->
<ellipse vector-effect="non-scaling-stroke" stroke-width="3" fill="#fff" cx="340" cy="375" rx="30" ry="45" transform="rotate(-25 340 375)"/>
<ellipse vector-effect="non-scaling-stroke" stroke-width="1.6" cx="340" cy="375" rx="14" ry="28" transform="rotate(-25 340 375)"/>
<!-- hose 23 -->
<path vector-effect="non-scaling-stroke" stroke-width="1.8" fill="#fff" d="M430,435 C440,415 460,410 475,418 L540,470 C565,495 565,530 540,560 L490,590 C470,600 450,585 455,560 C460,545 475,540 490,535 C510,525 510,505 495,490 L440,460 C430,455 428,445 430,435 Z"/>
<ellipse vector-effect="non-scaling-stroke" stroke-width="1.6" cx="470" cy="563" rx="18" ry="26" transform="rotate(-30 470 563)"/>
<!-- part 22 -->
<path vector-effect="non-scaling-stroke" stroke-width="1.8" fill="#fff" d="M580,400 L640,370 L760,355 L820,380 L815,470 L800,495 L640,540 L622,545 L622,500 L585,455 Z"/>
<path vector-effect="non-scaling-stroke" stroke-width="1.6" d="M585,455 L640,490 L800,450 L815,470 M640,490 L622,500 M630,405 L740,380 L742,435 L650,460 Z M760,360 L800,380 L815,420"/>
<path vector-effect="non-scaling-stroke" stroke-width="5" d="M650,395 L735,350"/>
<path vector-effect="non-scaling-stroke" stroke-width="2.5" d="M600,410 L630,430 M640,485 L665,495"/>
<!-- 19 screw -->
<path vector-effect="non-scaling-stroke" stroke-width="1" fill="#000" d="M788,265 C788,250 812,250 812,265 L810,300 L806,330 L794,330 L790,300 Z"/>
<path vector-effect="non-scaling-stroke" stroke-width="2" fill="#fff" d="M780,370 C780,345 825,345 825,370 L820,400 C800,410 785,400 780,370 Z"/>
<!-- part 20 -->
<path vector-effect="non-scaling-stroke" stroke-width="1.8" fill="#fff" d="M245,625 L295,585 L360,550 L430,580 L432,640 L345,685 L295,655 Z"/>
<path vector-effect="non-scaling-stroke" stroke-width="3" d="M300,600 L340,620 L345,680 M300,605 L300,650 M320,570 L390,600 L395,625 M360,620 L420,595"/>
<path vector-effect="non-scaling-stroke" stroke-width="6" d="M315,610 L318,650 M335,585 L360,600"/>
<!-- 17 bar -->
<path vector-effect="non-scaling-stroke" stroke-width="1.8" fill="#fff" d="M125,745 L135,730 L330,820 L330,845 L315,850 L125,760 Z"/>
<path vector-effect="non-scaling-stroke" stroke-width="1.4" stroke-dasharray="6 6" d="M145,755 L310,832"/>
<path vector-effect="non-scaling-stroke" stroke-width="1.8" fill="#fff" d="M320,825 L390,820 L390,850 L330,855 Z"/>
<path vector-effect="non-scaling-stroke" stroke-width="2.6" d="M340,830 L370,845"/>
<!-- part 18 -->
<path vector-effect="non-scaling-stroke" stroke-width="1.8" fill="#fff" d="M520,840 L600,800 L670,830 L685,875 L640,910 L560,880 Z"/>
<path vector-effect="non-scaling-stroke" stroke-width="1.6" d="M560,840 L620,815 L670,830 M560,840 L560,880 M520,840 L560,840"/>
<ellipse vector-effect="non-scaling-stroke" stroke-width="2" fill="#fff" cx="655" cy="870" rx="28" ry="32"/>
<path vector-effect="non-scaling-stroke" stroke-width="1.6" d="M640,855 L665,855 L665,885"/>
</g>

<!-- origin (940,490) scale 1/6.478 -->
<g transform="translate(940,490) scale(0.15437)" fill="none" stroke="#000" stroke-linejoin="round" stroke-linecap="round">
<path vector-effect="non-scaling-stroke" stroke-width="1.3" d="M265,285 L440,285 M445,320 L445,1180 L575,1250 L575,1400 M100,570 L265,570 M485,370 L690,480 L690,290 M770,130 L770,290 M845,410 L1020,410 M860,525 L1020,525 M840,550 L840,630 M865,920 L1040,920 M790,1265 L960,1265 M840,1200 L840,1590"/>
<!-- 11 wire -->
<path vector-effect="non-scaling-stroke" stroke-width="3" d="M690,290 C700,280 720,285 800,310 C840,325 845,350 845,380 L843,425"/>
<circle vector-effect="non-scaling-stroke" stroke-width="1" fill="#000" cx="840" cy="425" r="18"/>
<circle vector-effect="non-scaling-stroke" stroke-width="1" fill="#000" cx="450" cy="290" r="22"/>
<path vector-effect="non-scaling-stroke" stroke-width="3" d="M445,290 L445,360"/>
<!-- part 6 -->
<path vector-effect="non-scaling-stroke" stroke-width="2" fill="#fff" d="M745,520 C745,500 800,495 820,500 L835,490 C860,485 865,500 862,520 L862,545 C850,555 830,555 820,545 L760,540 C745,538 745,530 745,520 Z"/>
<path vector-effect="non-scaling-stroke" stroke-width="2" d="M820,500 L820,545 M770,512 L780,525"/>
<!-- part 10 + bracket -->
<path vector-effect="non-scaling-stroke" stroke-width="2" fill="#fff" d="M265,520 L350,475 L420,495 L430,580 L360,650 L265,600 Z"/>
<path vector-effect="non-scaling-stroke" stroke-width="1.6" d="M265,540 L360,595 L425,530 M360,595 L360,650"/>
<path vector-effect="non-scaling-stroke" stroke-width="5" d="M270,585 L355,630 M268,545 L268,590 M360,600 L360,645"/>
<path vector-effect="non-scaling-stroke" stroke-width="3" d="M300,560 L330,575 M380,560 L400,540 M430,520 L445,540 L440,600 M470,510 L520,490"/>
<path vector-effect="non-scaling-stroke" stroke-width="2" fill="#fff" d="M400,490 L480,475 L545,495 L550,530 L420,620 L400,600 Z"/>
<path vector-effect="non-scaling-stroke" stroke-width="3.5" d="M420,615 L548,520"/>
<path vector-effect="non-scaling-stroke" stroke-width="2" fill="#fff" d="M460,470 L470,415 C480,400 510,400 520,420 L500,480 Z"/>
<!-- door 3 -->
<path vector-effect="non-scaling-stroke" stroke-width="2" fill="#fff" d="M558,528 L825,668 L815,1180 L560,1040 Z"/>
<path vector-effect="non-scaling-stroke" stroke-width="4" d="M552,525 L825,665"/>
<path vector-effect="non-scaling-stroke" stroke-width="3" d="M590,585 L790,690 L785,1120 L590,1030 Z M690,640 L690,1075"/>
<path vector-effect="non-scaling-stroke" stroke-width="2" d="M605,600 L605,1020 M775,700 L775,1110"/>
<path vector-effect="non-scaling-stroke" stroke-width="3" d="M595,700 L785,800 M595,810 L785,905 M595,915 L785,1010"/>
<path vector-effect="non-scaling-stroke" stroke-width="1.5" d="M600,715 L780,810 M600,825 L780,918 M600,930 L780,1025"/>
<!-- rod -->
<path vector-effect="non-scaling-stroke" stroke-width="2.2" fill="#fff" d="M825,640 C825,625 858,625 858,640 L860,1190 C860,1205 828,1205 828,1190 Z"/>
<path vector-effect="non-scaling-stroke" stroke-width="1.6" d="M826,690 L858,690"/>
<!-- part 4 -->
<path vector-effect="non-scaling-stroke" stroke-width="2" fill="#fff" d="M555,1155 C560,1140 575,1135 590,1140 L830,1290 L815,1340 L560,1190 Z"/>
<path vector-effect="non-scaling-stroke" stroke-width="2.5" d="M560,1175 L790,1310 M790,1260 C770,1270 770,1300 790,1305"/>
</g>
<!-- origin (940,690) scale 1/5.159 -->
<g transform="translate(940,690) scale(0.19383)" fill="none" stroke="#000" stroke-linejoin="round" stroke-linecap="round">
<path vector-effect="non-scaling-stroke" stroke-width="1.3" d="M750,235 L860,175 M600,1005 L720,945"/>
<!-- box -->
<path vector-effect="non-scaling-stroke" stroke-width="1.4" fill="#fff" d="M80,285 L515,40 L745,170 L745,680 L310,920 L80,790 Z"/>
<path vector-effect="non-scaling-stroke" stroke-width="2.2" d="M80,285 L80,790"/>
<path vector-effect="non-scaling-stroke" stroke-width="1.9" d="M85,280 L515,45 L745,175 L745,290"/>
<path vector-effect="non-scaling-stroke" stroke-width="1.6" d="M80,285 L310,410 L310,920 M310,410 L620,242 L625,330 L735,290 L735,180 M515,45 L515,150 L195,330 M515,150 L720,265 M90,300 L310,420"/>
<path vector-effect="non-scaling-stroke" stroke-width="1.9" d="M310,405 L620,240 L625,330 L735,290"/>
<path vector-effect="non-scaling-stroke" stroke-width="1.5" d="M320,530 C350,510 390,490 420,470 L680,330 L675,700 L320,890 Z"/>
<path vector-effect="non-scaling-stroke" stroke-width="2.2" d="M330,545 L330,880 L665,700 L668,345"/>
<path vector-effect="non-scaling-stroke" stroke-width="1.6" d="M330,650 L520,545 L660,620 M520,545 L520,420"/>
<path vector-effect="non-scaling-stroke" stroke-width="2" d="M240,360 C270,340 320,350 340,385"/>
<path vector-effect="non-scaling-stroke" stroke-width="2.5" fill="#fff" d="M385,280 C385,240 420,240 420,280 Z M440,330 C440,290 470,290 470,330 Z M515,275 C515,245 545,245 545,275 Z"/>
<circle vector-effect="non-scaling-stroke" stroke-width="1" fill="#000" cx="665" cy="300" r="10"/>
<!-- filter 5 -->
<path vector-effect="non-scaling-stroke" stroke-width="4" d="M722,765 L1078,562 L1083,915 L728,1118 Z"/>
<path vector-effect="non-scaling-stroke" stroke-width="1.6" d="M745,770 L1060,590 L1065,905 L745,1090 Z"/>
<path vector-effect="non-scaling-stroke" stroke-width="4" d="M850,690 L852,1075 M965,620 L972,1000 M728,925 L1080,735"/>
<path vector-effect="non-scaling-stroke" stroke-width="1.6" d="M870,690 L940,655 C950,620 930,610 900,630 L870,660"/>
<g vector-effect="non-scaling-stroke">
<path vector-effect="non-scaling-stroke" stroke-width="1.3" d="M755,785 L830,745 M755,805 L830,765 M755,825 L830,785 M755,845 L830,805 M755,865 L830,825 M755,885 L830,845 M765,770 L765,885 M785,760 L785,875 M805,750 L805,865 M825,740 L825,855"/>
</g>
</g>
<!-- clip 8 -->
<g fill="#fff" stroke="#000" stroke-width="1.6" stroke-linejoin="round">
<path d="M940,818 C937,822 936,830 940,836 L946,835 C943,830 943,824 946,820 Z"/>
<path fill="none" stroke-width="1.2" d="M914.4,839.7 L936.8,827"/>
</g>

<defs>
<pattern id="fins25" patternUnits="userSpaceOnUse" width="2.6" height="10"><rect width="2.6" height="10" fill="#fff"/><line x1="0.7" y1="0" x2="0.7" y2="10" stroke="#000" stroke-width="1.05" shape-rendering="crispEdges"/></pattern>
<pattern id="fins3" patternUnits="userSpaceOnUse" width="3" height="10"><rect width="3" height="10" fill="#fff"/><line x1="0.8" y1="0" x2="0.8" y2="10" stroke="#000" stroke-width="1.1" shape-rendering="crispEdges"/></pattern>
<pattern id="fins4" patternUnits="userSpaceOnUse" width="3.8" height="10"><rect width="3.8" height="10" fill="#fff"/><line x1="1" y1="0" x2="1" y2="10" stroke="#000" stroke-width="1.1" shape-rendering="crispEdges"/></pattern>
</defs>
<!-- fins in real coords -->
<path fill="url(#fins25)" stroke="none" d="M655.8,742.3 L697,719.8 L697,798.6 L655.8,807.6 Z"/>
<path fill="url(#fins3)" stroke="none" d="M707.5,797 L783.3,753.5 L783.3,836.8 L707.5,880.4 Z"/>
<path fill="url(#fins4)" stroke="none" d="M800,850.5 L876.7,809.6 L876.7,887 L838.5,906 L800,904 Z"/>
<!-- 39 + 27: origin (625,680) scale 1/6.663 -->
<g transform="translate(625,680) scale(0.15008)" fill="none" stroke="#000" stroke-linejoin="round" stroke-linecap="round">
<path vector-effect="non-scaling-stroke" stroke-width="1.3" d="M320,80 L320,200 M280,1120 L420,1045 M1080,520 L1166,570"/>
<path vector-effect="non-scaling-stroke" stroke-width="1.3" d="M60,0 L60,720 L500,640 M630,585 L880,450"/>
<!-- 39 -->
<path vector-effect="non-scaling-stroke" stroke-width="1.8" fill="#fff" d="M80,370 L510,130 L570,145 L575,205 L175,420 L80,400 Z"/>
<path vector-effect="non-scaling-stroke" stroke-width="1.5" d="M80,370 L175,390 L570,175 M175,390 L175,420"/>
<path vector-effect="non-scaling-stroke" stroke-width="2.6" fill="#fff" d="M150,290 C160,260 220,255 235,285 L240,350 C220,370 170,370 150,345 Z"/>
<path vector-effect="non-scaling-stroke" stroke-width="4" d="M170,300 L215,300 M175,330 L220,330"/>
<path vector-effect="non-scaling-stroke" stroke-width="2.6" fill="#fff" d="M500,120 C520,105 575,120 590,150 L590,180 L545,190 Z"/>
<path vector-effect="non-scaling-stroke" stroke-width="2.2" d="M460,175 L490,190 M90,380 L130,395"/>
<path vector-effect="non-scaling-stroke" stroke-width="2.4" d="M208,420 L210,850 M480,265 L480,790"/>
<path vector-effect="non-scaling-stroke" stroke-width="1.8" fill="#fff" d="M195,855 L420,770 L432,795 L250,905 L195,880 Z"/>
<path vector-effect="non-scaling-stroke" stroke-width="1.4" d="M205,865 L425,782"/>
<!-- 27 -->
<path vector-effect="non-scaling-stroke" stroke-width="1.8" fill="#fff" d="M430,710 L960,395 C990,385 1010,395 1030,410 L1080,455 L1075,475 L545,775 C500,770 455,760 435,740 Z"/>
<path vector-effect="non-scaling-stroke" stroke-width="1.4" d="M450,715 L965,415 L1060,460 M470,720 C520,740 560,745 600,735"/>
<path vector-effect="non-scaling-stroke" stroke-width="2.4" fill="#fff" d="M430,710 L430,1320 C450,1345 480,1355 500,1350 L545,1340 L545,775"/>
<path vector-effect="non-scaling-stroke" stroke-width="1.5" d="M450,725 L450,1330 M470,735 L470,1340 M490,745 L490,1345 M515,760 L515,1345"/>
<path vector-effect="non-scaling-stroke" stroke-width="3" d="M432,1300 L495,1345 M1060,480 L1060,1050 L545,1340"/>
<path vector-effect="non-scaling-stroke" stroke-width="1.8" d="M1080,455 L1080,1030 L1060,1050"/>
<path vector-effect="non-scaling-stroke" stroke-width="2.6" fill="#fff" d="M500,620 C520,590 580,585 620,595 C650,610 655,640 630,650 L600,640 C580,625 540,630 520,650 Z"/>
<path vector-effect="non-scaling-stroke" stroke-width="2.6" fill="#fff" d="M880,440 C890,410 950,405 965,440 C965,475 930,490 900,480 Z"/>
</g>
<!-- 14-1: origin (770,790) scale 1/5.623 -->
<g transform="translate(770,790) scale(0.17784)" fill="none" stroke="#000" stroke-linejoin="round" stroke-linecap="round">
<path vector-effect="non-scaling-stroke" stroke-width="1.8" fill="#fff" d="M80,285 L520,25 C550,15 590,40 600,60 L605,100 L170,340 C130,330 90,310 80,300 Z"/>
<path vector-effect="non-scaling-stroke" stroke-width="1.4" d="M95,280 L525,45 L600,85 M160,320 L170,340"/>
<path vector-effect="non-scaling-stroke" stroke-width="2.6" d="M75,280 L70,1000 M170,340 L170,640 M600,110 L600,550"/>
<circle vector-effect="non-scaling-stroke" stroke-width="1" fill="#000" cx="130" cy="255" r="14"/>
<path vector-effect="non-scaling-stroke" stroke-width="1.8" fill="#fff" d="M380,645 L598,540 C610,545 612,560 612,600 L612,615 L390,760 Z"/>
<path vector-effect="non-scaling-stroke" stroke-width="1.4" d="M385,690 L605,575 M388,720 L608,600"/>
<!-- pipes -->
<path vector-effect="non-scaling-stroke" stroke-width="1.8" fill="#fff" d="M85,1005 L85,720 C90,650 150,610 240,605 L320,615 C360,625 380,660 385,700 L385,830 C380,870 300,880 290,840 L285,740 C280,700 250,700 220,720 C205,730 200,760 205,800 L205,880 C200,900 140,900 140,880 L140,740 C140,700 170,680 220,660 L300,625"/>
<path vector-effect="non-scaling-stroke" stroke-width="1.4" d="M140,1040 L140,730 C150,690 200,660 280,650 M330,690 L330,820 M290,700 L330,690 M290,760 L325,740 M290,800 L325,780 M210,780 L210,860"/>
<path vector-effect="non-scaling-stroke" stroke-width="2.6" fill="#fff" d="M55,1000 L95,990 L215,1040 L215,1120 L175,1140 L55,1080 Z"/>
<path vector-effect="non-scaling-stroke" stroke-width="1.6" d="M55,1010 L175,1060 L215,1040 M175,1060 L175,1140"/>
<path vector-effect="non-scaling-stroke" stroke-width="3" d="M60,780 L60,840"/>
</g>
<!-- 14-2,3,4 and 13, origin (580,880) scale 1/2.915 -->
<g transform="translate(580,880) scale(0.34305)" fill="none" stroke="#000" stroke-linejoin="round" stroke-linecap="round">
<path vector-effect="non-scaling-stroke" stroke-width="1.3" d="M530,368 L620,350 M530,368 L620,372 M690,440 L770,440 M720,555 L640,555 M720,555 L590,590"/>
<path vector-effect="non-scaling-stroke" stroke-width="1.3" d="M615,315 L615,510 L580,530 L580,545 M630,510 L630,520"/>
<circle vector-effect="non-scaling-stroke" stroke-width="1" fill="#000" cx="632" cy="345" r="8"/>
<circle vector-effect="non-scaling-stroke" stroke-width="1" fill="#000" cx="617" cy="367" r="7"/>
<!-- 14-2 -->
<path vector-effect="non-scaling-stroke" stroke-width="1.8" fill="#fff" d="M570,395 L615,380 L675,420 L665,470 L655,475 L575,425 Z"/>
<path vector-effect="non-scaling-stroke" stroke-width="1.5" d="M570,400 L655,445 L665,470"/>
<ellipse vector-effect="non-scaling-stroke" stroke-width="2.4" fill="#fff" cx="668" cy="447" rx="20" ry="27" transform="rotate(-15 668 447)"/>
<ellipse vector-effect="non-scaling-stroke" stroke-width="1.4" cx="662" cy="448" rx="14" ry="22" transform="rotate(-15 662 448)"/>
<!-- screws 14-4 -->
<path vector-effect="non-scaling-stroke" stroke-width="4" d="M631,505 L631,550 M584,550 L586,588"/>
<circle vector-effect="non-scaling-stroke" stroke-width="2.4" fill="#fff" cx="630" cy="552" r="8"/>
<circle vector-effect="non-scaling-stroke" stroke-width="2.4" fill="#fff" cx="585" cy="592" r="8"/>
<!-- 13 leader -->
<path vector-effect="non-scaling-stroke" stroke-width="1.3" d="M905,690 L985,690"/>
</g>
<!-- 13 bottom part + alignment line: origin (580,1150) -->
<g transform="translate(580,1150) scale(0.34305)" fill="none" stroke="#000" stroke-linejoin="round" stroke-linecap="round">
<path vector-effect="non-scaling-stroke" stroke-width="1.3" d="M440,375 L90,560 L90,0"/>
</g>
<!-- 12 + 41: origin (700,1180) scale 1/4.164 -->
<g transform="translate(700,1180) scale(0.24015)" fill="none" stroke="#000" stroke-linejoin="round" stroke-linecap="round">
<path vector-effect="non-scaling-stroke" stroke-width="1.3" d="M860,325 L965,325 M280,830 L365,790"/>
<!-- back panel -->
<path vector-effect="non-scaling-stroke" stroke-width="1.8" fill="#fff" d="M445,55 L490,62 C495,55 515,60 520,75 L610,145 L650,140 C660,125 690,125 700,145 L780,170 C790,160 815,165 822,185 C830,210 835,240 845,265 L830,440 L480,640 L400,600 L280,410 L445,225 Z"/>
<path vector-effect="non-scaling-stroke" stroke-width="1.6" d="M615,145 L620,250 C625,290 640,320 660,330 L790,355 M710,150 L710,330"/>
<!-- trough -->
<path vector-effect="non-scaling-stroke" stroke-width="1.8" fill="#fff" d="M255,350 L515,195 L530,225 L600,240 C610,280 620,310 660,330 L830,360 L845,445 L480,660 L450,490 L230,395 Z"/>
<path vector-effect="non-scaling-stroke" stroke-width="1.6" d="M265,370 L520,225 M280,410 L600,255 M485,545 L820,365 M485,565 L825,385 M480,630 L845,440 M480,648 L850,455"/>
<!-- right post -->
<path vector-effect="non-scaling-stroke" stroke-width="1.8" fill="#fff" d="M825,270 C828,258 850,258 858,272 L858,450 L830,440 Z"/>
<path vector-effect="non-scaling-stroke" stroke-width="1.6" d="M835,285 L840,440"/>
<!-- left wall -->
<path vector-effect="non-scaling-stroke" stroke-width="1.8" fill="#fff" d="M190,420 L230,395 C260,420 280,430 300,440 C310,450 330,465 345,462 C365,470 380,490 400,492 C420,490 430,480 450,478 L470,485 L475,670 L400,650 C340,630 290,610 260,570 C240,540 250,480 190,420 Z"/>
<path vector-effect="non-scaling-stroke" stroke-width="2.6" d="M300,445 C305,465 320,470 335,465 C345,485 365,495 385,490 C395,510 425,510 440,490"/>
<path vector-effect="non-scaling-stroke" stroke-width="2" fill="#fff" d="M450,480 C455,470 475,470 480,482 L480,665 L455,660 Z"/>
<path vector-effect="non-scaling-stroke" stroke-width="4" d="M468,520 L468,650"/>
<!-- feet -->
<path vector-effect="non-scaling-stroke" stroke-width="1.8" fill="#fff" d="M400,655 L480,650 L560,640 L625,700 L550,752 L420,690 Z"/>
<path vector-effect="non-scaling-stroke" stroke-width="1.5" d="M470,665 L560,715 M525,645 L605,700"/>
<ellipse vector-effect="non-scaling-stroke" stroke-width="1.6" cx="548" cy="700" rx="14" ry="9"/>
<path vector-effect="non-scaling-stroke" stroke-width="1.8" fill="#fff" d="M760,500 L850,462 L935,522 L862,575 L760,525 Z"/>
<path vector-effect="non-scaling-stroke" stroke-width="1.5" d="M800,508 L880,552 M845,475 L915,525"/>
<ellipse vector-effect="non-scaling-stroke" stroke-width="1.6" cx="856" cy="523" rx="14" ry="9"/>
<!-- left flange -->
<path vector-effect="non-scaling-stroke" stroke-width="1.8" fill="#fff" d="M90,260 L255,355 L255,385 L205,420 L185,465 L130,470 L90,445 Z"/>
<path vector-effect="non-scaling-stroke" stroke-width="1.6" d="M125,285 L125,470"/>
<path vector-effect="non-scaling-stroke" stroke-width="3.5" d="M100,290 C110,280 125,290 125,300 M140,310 C150,300 175,315 180,330 L190,340 M100,345 C110,335 125,345 125,355 M140,365 C150,355 175,370 180,385 M215,360 C230,350 245,365 240,380 M200,405 C215,395 230,410 225,420 M140,395 L155,440"/>

<!-- 41 -->
<path vector-effect="non-scaling-stroke" stroke-width="1.8" fill="#fff" d="M280,718 L300,710 L330,730 L360,738 L395,745 L435,770 L385,798 L330,765 L290,738 Z"/>
<path vector-effect="non-scaling-stroke" stroke-width="3" d="M345,760 C350,748 370,750 370,765"/>
</g>

<g class="lb">
<text transform="translate(54.89,156.20) scale(0.96,1)"> 9</text>
<text transform="translate(102.89,132.20) scale(0.96,1)"> 9</text>
<text transform="translate(191.18,143.20) scale(0.96,1)">36</text>
<text transform="translate(234.50,182.20) scale(0.96,1)">43</text>
<text transform="translate(344.91,211.20) scale(0.96,1)">29</text>
<text transform="translate(133.89,201.20) scale(0.96,1)"> 9</text>
<text transform="translate(161.18,214.20) scale(0.96,1)">35</text>
<text transform="translate(7.18,283.20) scale(0.96,1)">34</text>
<text transform="translate(68.18,312.20) scale(0.96,1)">33</text>
<text transform="translate(433.18,339.20) scale(0.96,1)">3 </text>
<text transform="translate(767.18,216.20) scale(0.96,1)">37</text>
<text transform="translate(621.18,329.20) scale(0.96,1)">32</text>
<text transform="translate(622.18,437.20) scale(0.96,1)">30</text>
<text transform="translate(808.91,424.20) scale(0.96,1)">26</text>
<text transform="translate(778.96,456.20) scale(0.96,1)">A</text>
<text transform="translate(763.91,491.20) scale(0.96,1)">20</text>
<text transform="translate(734.89,519.20) scale(0.96,1)"> 7</text>
<text transform="translate(835.91,531.20) scale(0.96,1)">23</text>
<text transform="translate(330.18,555.20) scale(0.96,1)">32</text>
<text transform="translate(628.89,550.20) scale(0.96,1)"> 9</text>
<text transform="translate(658.91,558.20) scale(0.96,1)">26</text>
<text transform="translate(525.18,595.20) scale(0.96,1)">36</text>
<text transform="translate(515.91,633.20) scale(0.96,1)">25</text>
<text transform="translate(665.91,640.20) scale(0.96,1)">24</text>
<text transform="translate(514.50,672.20) scale(0.96,1)">40</text>
<text transform="translate(660.18,690.20) scale(0.96,1)">39</text>
<text transform="translate(518.91,731.20) scale(0.96,1)">28</text>
<text transform="translate(855.89,735.20) scale(0.96,1)"> 5</text>
<text transform="translate(912.91,434.20) scale(0.96,1)">2 </text>
<text transform="translate(924.89,456.20) scale(0.96,1)"> 9</text>
<text transform="translate(925.91,487.20) scale(0.96,1)">22</text>
<text transform="translate(1045.89,507.20) scale(0.96,1)">  </text>
<text transform="translate(903.89,555.20) scale(0.96,1)"> 8</text>
<text transform="translate(956.89,542.20) scale(0.96,1)"> 9</text>
<text transform="translate(1099.89,560.20) scale(0.96,1)">7</text>
<text transform="translate(929.89,586.20) scale(0.96,1)"> 0</text>
<text transform="translate(1100.90,580.20) scale(0.96,1)">6</text>
<text transform="translate(927.89,638.20) scale(0.96,1)"> 6</text>
<text transform="translate(1101.18,638.20) scale(0.96,1)">3</text>
<text transform="translate(1090.50,691.20) scale(0.96,1)">4</text>
<text transform="translate(1105.89,724.20) scale(0.96,1)"> ,2</text>
<text transform="translate(808.96,780.20) scale(0.96,1)">A</text>
<text transform="translate(901.06,849.20) scale(0.96,1)">8</text>
<text transform="translate(641.91,858.20) scale(0.96,1)">27</text>
<text transform="translate(1044.14,895.20) scale(0.96,1)">5</text>
<text transform="translate(719.89,922.20) scale(0.96,1)"> 4- </text>
<text transform="translate(719.89,1012.20) scale(0.96,1)"> 4-3</text>
<text transform="translate(843.89,1038.20) scale(0.96,1)"> 4-2</text>
<text transform="translate(827.89,1078.20) scale(0.96,1)"> 4-4</text>
<text transform="translate(915.89,1125.20) scale(0.96,1)"> 3</text>
<text transform="translate(932.89,1265.20) scale(0.96,1)"> 2</text>
<text transform="translate(744.50,1390.20) scale(0.96,1)">4 </text>
</g>
<g fill="#000" stroke="#000" stroke-width="0.5">
<path transform="translate(54.89,156.20) scale(0.01055,-0.01099)" vector-effect="non-scaling-stroke" d="M500,0 L750,0 L750,1409 L570,1409 C510,1290 350,1200 200,1160 L200,960 C310,990 410,1040 500,1090 Z"/>
<path transform="translate(102.89,132.20) scale(0.01055,-0.01099)" vector-effect="non-scaling-stroke" d="M500,0 L750,0 L750,1409 L570,1409 C510,1290 350,1200 200,1160 L200,960 C310,990 410,1040 500,1090 Z"/>
<path transform="translate(133.89,201.20) scale(0.01055,-0.01099)" vector-effect="non-scaling-stroke" d="M500,0 L750,0 L750,1409 L570,1409 C510,1290 350,1200 200,1160 L200,960 C310,990 410,1040 500,1090 Z"/>
<path transform="translate(445.19,339.20) scale(0.01055,-0.01099)" vector-effect="non-scaling-stroke" d="M500,0 L750,0 L750,1409 L570,1409 C510,1290 350,1200 200,1160 L200,960 C310,990 410,1040 500,1090 Z"/>
<path transform="translate(734.89,519.20) scale(0.01055,-0.01099)" vector-effect="non-scaling-stroke" d="M500,0 L750,0 L750,1409 L570,1409 C510,1290 350,1200 200,1160 L200,960 C310,990 410,1040 500,1090 Z"/>
<path transform="translate(628.89,550.20) scale(0.01055,-0.01099)" vector-effect="non-scaling-stroke" d="M500,0 L750,0 L750,1409 L570,1409 C510,1290 350,1200 200,1160 L200,960 C310,990 410,1040 500,1090 Z"/>
<path transform="translate(855.89,735.20) scale(0.01055,-0.01099)" vector-effect="non-scaling-stroke" d="M500,0 L750,0 L750,1409 L570,1409 C510,1290 350,1200 200,1160 L200,960 C310,990 410,1040 500,1090 Z"/>
<path transform="translate(924.93,434.20) scale(0.01055,-0.01099)" vector-effect="non-scaling-stroke" d="M500,0 L750,0 L750,1409 L570,1409 C510,1290 350,1200 200,1160 L200,960 C310,990 410,1040 500,1090 Z"/>
<path transform="translate(924.89,456.20) scale(0.01055,-0.01099)" vector-effect="non-scaling-stroke" d="M500,0 L750,0 L750,1409 L570,1409 C510,1290 350,1200 200,1160 L200,960 C310,990 410,1040 500,1090 Z"/>
<path transform="translate(1045.89,507.20) scale(0.01055,-0.01099)" vector-effect="non-scaling-stroke" d="M500,0 L750,0 L750,1409 L570,1409 C510,1290 350,1200 200,1160 L200,960 C310,990 410,1040 500,1090 Z"/>
<path transform="translate(1057.90,507.20) scale(0.01055,-0.01099)" vector-effect="non-scaling-stroke" d="M500,0 L750,0 L750,1409 L570,1409 C510,1290 350,1200 200,1160 L200,960 C310,990 410,1040 500,1090 Z"/>
<path transform="translate(903.89,555.20) scale(0.01055,-0.01099)" vector-effect="non-scaling-stroke" d="M500,0 L750,0 L750,1409 L570,1409 C510,1290 350,1200 200,1160 L200,960 C310,990 410,1040 500,1090 Z"/>
<path transform="translate(956.89,542.20) scale(0.01055,-0.01099)" vector-effect="non-scaling-stroke" d="M500,0 L750,0 L750,1409 L570,1409 C510,1290 350,1200 200,1160 L200,960 C310,990 410,1040 500,1090 Z"/>
<path transform="translate(929.89,586.20) scale(0.01055,-0.01099)" vector-effect="non-scaling-stroke" d="M500,0 L750,0 L750,1409 L570,1409 C510,1290 350,1200 200,1160 L200,960 C310,990 410,1040 500,1090 Z"/>
<path transform="translate(927.89,638.20) scale(0.01055,-0.01099)" vector-effect="non-scaling-stroke" d="M500,0 L750,0 L750,1409 L570,1409 C510,1290 350,1200 200,1160 L200,960 C310,990 410,1040 500,1090 Z"/>
<path transform="translate(1105.89,724.20) scale(0.01055,-0.01099)" vector-effect="non-scaling-stroke" d="M500,0 L750,0 L750,1409 L570,1409 C510,1290 350,1200 200,1160 L200,960 C310,990 410,1040 500,1090 Z"/>
<path transform="translate(719.89,922.20) scale(0.01055,-0.01099)" vector-effect="non-scaling-stroke" d="M500,0 L750,0 L750,1409 L570,1409 C510,1290 350,1200 200,1160 L200,960 C310,990 410,1040 500,1090 Z"/>
<path transform="translate(751.11,922.20) scale(0.01055,-0.01099)" vector-effect="non-scaling-stroke" d="M500,0 L750,0 L750,1409 L570,1409 C510,1290 350,1200 200,1160 L200,960 C310,990 410,1040 500,1090 Z"/>
<path transform="translate(719.89,1012.20) scale(0.01055,-0.01099)" vector-effect="non-scaling-stroke" d="M500,0 L750,0 L750,1409 L570,1409 C510,1290 350,1200 200,1160 L200,960 C310,990 410,1040 500,1090 Z"/>
<path transform="translate(843.89,1038.20) scale(0.01055,-0.01099)" vector-effect="non-scaling-stroke" d="M500,0 L750,0 L750,1409 L570,1409 C510,1290 350,1200 200,1160 L200,960 C310,990 410,1040 500,1090 Z"/>
<path transform="translate(827.89,1078.20) scale(0.01055,-0.01099)" vector-effect="non-scaling-stroke" d="M500,0 L750,0 L750,1409 L570,1409 C510,1290 350,1200 200,1160 L200,960 C310,990 410,1040 500,1090 Z"/>
<path transform="translate(915.89,1125.20) scale(0.01055,-0.01099)" vector-effect="non-scaling-stroke" d="M500,0 L750,0 L750,1409 L570,1409 C510,1290 350,1200 200,1160 L200,960 C310,990 410,1040 500,1090 Z"/>
<path transform="translate(932.89,1265.20) scale(0.01055,-0.01099)" vector-effect="non-scaling-stroke" d="M500,0 L750,0 L750,1409 L570,1409 C510,1290 350,1200 200,1160 L200,960 C310,990 410,1040 500,1090 Z"/>
<path transform="translate(756.52,1390.20) scale(0.01055,-0.01099)" vector-effect="non-scaling-stroke" d="M500,0 L750,0 L750,1409 L570,1409 C510,1290 350,1200 200,1160 L200,960 C310,990 410,1040 500,1090 Z"/>
</g>

</svg>
</body></html>
